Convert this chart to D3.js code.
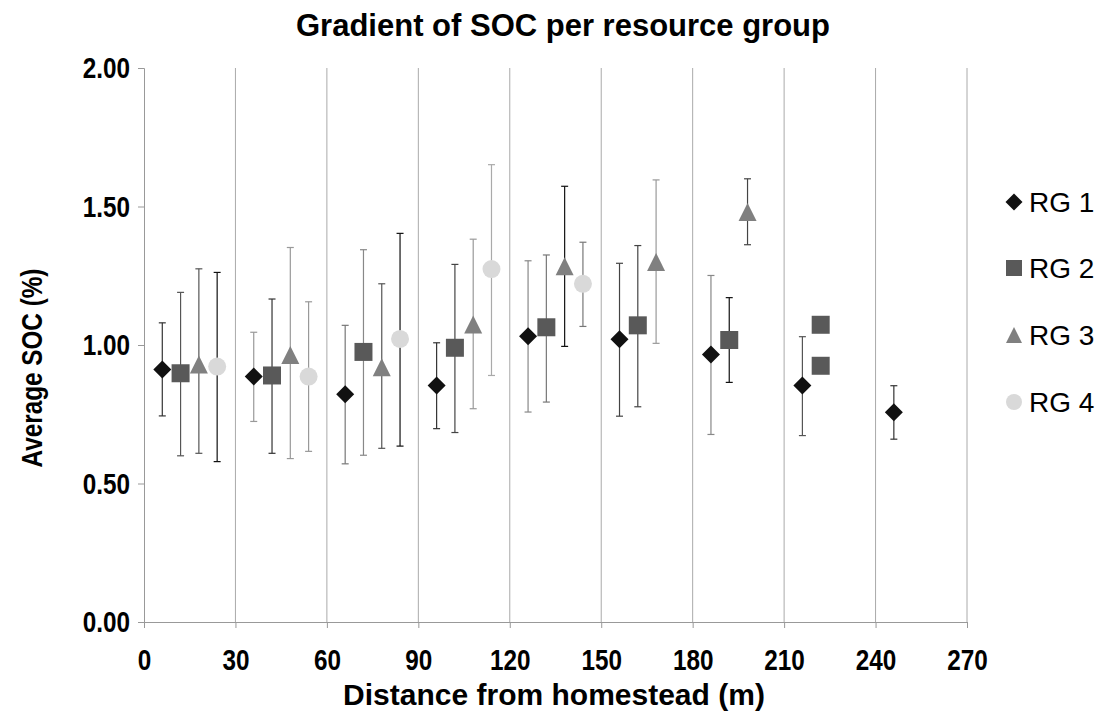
<!DOCTYPE html>
<html>
<head>
<meta charset="utf-8">
<script src="https://cdn.jsdelivr.net/npm/d3@7"></script>
<style>
  html, body { margin: 0; padding: 0; background: #fff; }
  svg { display: block; font-family: "Liberation Sans", Arial, sans-serif; }
</style>
</head>
<body>
<svg id="chart" width="1104" height="718"></svg>
<script>
// ---------- data ----------
const seriesNames = ["RG 1", "RG 2", "RG 3", "RG 4"];
const xTicks = [0, 30, 60, 90, 120, 150, 180, 210, 240, 270];
const yTicks = [0, 0.5, 1.0, 1.5, 2.0];

const rg1X  = [6, 36, 66, 96, 126, 156, 186, 216, 246];
const rg1Y  = [0.912, 0.886, 0.822, 0.854, 1.032, 1.021, 0.966, 0.854, 0.757];
const rg1Lo = [0.744, 0.724, 0.571, 0.698, 0.758, 0.743, 0.677, 0.673, 0.660];
const rg1Hi = [1.080, 1.046, 1.071, 1.008, 1.304, 1.295, 1.251, 1.030, 0.853];

const rg2X  = [12, 42, 72, 102, 132, 162, 192, 222, 222];
const rg2Y  = [0.898, 0.890, 0.975, 0.990, 1.064, 1.071, 1.018, 1.073, 0.925];
const rg2Lo = [0.600, 0.609, 0.602, 0.684, 0.794, 0.777, 0.865, null, null];
const rg2Hi = [1.190, 1.166, 1.344, 1.291, 1.325, 1.359, 1.171, null, null];

const rg3X  = [18, 48, 78, 108, 138, 168, 198];
const rg3Y  = [0.930, 0.964, 0.920, 1.074, 1.284, 1.300, 1.480];
const rg3Lo = [0.609, 0.590, 0.627, 0.770, 0.995, 1.006, 1.362];
const rg3Hi = [1.275, 1.352, 1.221, 1.382, 1.573, 1.596, 1.600];

const rg4X  = [24, 54, 84, 114, 144];
const rg4Y  = [0.922, 0.886, 1.022, 1.274, 1.221];
const rg4Lo = [0.579, 0.616, 0.635, 0.890, 1.067];
const rg4Hi = [1.262, 1.156, 1.403, 1.651, 1.371];

// ---------- styles ----------
const markerFill = ["#111111", "#595959", "#808080", "#d9d9d9"];
const errShade = [
  ["#333", "#999", "#777", "#333", "#888", "#444", "#888", "#555", "#333"],
  ["#555", "#333", "#888", "#444", "#777", "#444", "#111", "#555", "#555"],
  ["#555", "#999", "#555", "#999", "#111", "#999", "#444"],
  ["#111", "#999", "#111", "#aaa", "#777"]
];

const series = [
  {x: rg1X, y: rg1Y, lo: rg1Lo, hi: rg1Hi},
  {x: rg2X, y: rg2Y, lo: rg2Lo, hi: rg2Hi},
  {x: rg3X, y: rg3Y, lo: rg3Lo, hi: rg3Hi},
  {x: rg4X, y: rg4Y, lo: rg4Lo, hi: rg4Hi}
].map((s, si) => s.x.map((xv, i) => ({x: xv, y: s.y[i], lo: s.lo[i], hi: s.hi[i], si, i})));

// ---------- layout ----------
const svg = d3.select("#chart");
const L = 144, R = 967, T = 68, B = 622;
const x = d3.scaleLinear().domain([0, 270]).range([L, R]);
const y = d3.scaleLinear().domain([0, 2]).range([B, T]);
const squeeze = 0.81;

function symbolPath(si, s) {
  const h = s / 2;
  if (si === 0) return `M0,${-h}L${h},0L0,${h}L${-h},0Z`;
  if (si === 1) return `M${-h},${-h}H${h}V${h}H${-h}Z`;
  if (si === 2) return `M0,${-h}L${h},${h}L${-h},${h}Z`;
  const p = d3.path(); p.arc(0, 0, h, 0, 2 * Math.PI); return p.toString();
}

// title
svg.append("text")
  .attr("x", 563).attr("y", 36)
  .attr("text-anchor", "middle")
  .attr("font-weight", "bold").attr("font-size", 31)
  .attr("fill", "#000")
  .text("Gradient of SOC per resource group");

// vertical gridlines
svg.append("g").selectAll("line")
  .data(xTicks.filter(d => d > 0))
  .join("line")
  .attr("x1", d => x(d)).attr("x2", d => x(d))
  .attr("y1", T).attr("y2", B)
  .attr("stroke", "#aaaaaa").attr("stroke-width", 1);

// x axis
const xAxis = svg.append("g").attr("transform", `translate(0,${B})`)
  .call(d3.axisBottom(x).tickValues(xTicks).tickSize(6).tickPadding(21).tickFormat(d3.format("d")));
xAxis.select(".domain").attr("stroke", "#999").attr("stroke-width", 1);
xAxis.selectAll(".tick line").attr("stroke", "#999");
xAxis.selectAll("text")
  .attr("font-family", "'Liberation Sans', Arial, sans-serif")
  .attr("font-size", 30).attr("font-weight", "bold").attr("fill", "#000")
  .attr("transform", `scale(${squeeze},1)`);

// y axis
const yAxis = svg.append("g").attr("transform", `translate(${L},0)`)
  .call(d3.axisLeft(y).tickValues(yTicks).tickSize(6).tickPadding(8).tickFormat(d3.format(".2f")));
yAxis.select(".domain").attr("stroke", "#999").attr("stroke-width", 1);
yAxis.selectAll(".tick line").attr("stroke", "#999");
yAxis.selectAll("text")
  .attr("font-family", "'Liberation Sans', Arial, sans-serif")
  .attr("font-size", 30).attr("font-weight", "bold").attr("fill", "#000")
  .attr("x", 0)
  .attr("transform", `translate(-14,0) scale(${squeeze},1)`);

// axis titles
svg.append("text")
  .attr("x", 554).attr("y", 705)
  .attr("text-anchor", "middle")
  .attr("font-weight", "bold").attr("font-size", 30)
  .text("Distance from homestead (m)");
svg.append("text")
  .attr("transform", `translate(42,368) rotate(-90) scale(${squeeze},1)`)
  .attr("text-anchor", "middle")
  .attr("font-weight", "bold").attr("font-size", 30)
  .text("Average SOC (%)");

// error bars
const cap = 3.5;
const eb = svg.append("g");
series.forEach((pts, si) => {
  pts.filter(d => d.lo != null).forEach(d => {
    const g = eb.append("g").attr("stroke", errShade[si][d.i]).attr("stroke-width", 1.2);
    g.append("line").attr("x1", x(d.x)).attr("x2", x(d.x)).attr("y1", y(d.lo)).attr("y2", y(d.hi));
    g.append("line").attr("x1", x(d.x) - cap).attr("x2", x(d.x) + cap).attr("y1", y(d.lo)).attr("y2", y(d.lo));
    g.append("line").attr("x1", x(d.x) - cap).attr("x2", x(d.x) + cap).attr("y1", y(d.hi)).attr("y2", y(d.hi));
  });
});

// markers
series.forEach((pts, si) => {
  svg.append("g").selectAll("path")
    .data(pts).join("path")
    .attr("transform", d => `translate(${x(d.x)},${y(d.y)})`)
    .attr("d", symbolPath(si, 18))
    .attr("fill", markerFill[si]);
});

// legend
const legY = [202, 268, 335, 402];
const leg = svg.append("g");
seriesNames.forEach((name, si) => {
  leg.append("path")
    .attr("transform", `translate(1014,${legY[si]})`)
    .attr("d", symbolPath(si, si === 0 ? 17 : 16))
    .attr("fill", markerFill[si]);
  leg.append("text")
    .attr("x", 1029).attr("y", legY[si])
    .attr("dy", "0.36em")
    .attr("font-size", 28)
    .attr("fill", "#000")
    .text(name);
});
</script>
</body>
</html>
